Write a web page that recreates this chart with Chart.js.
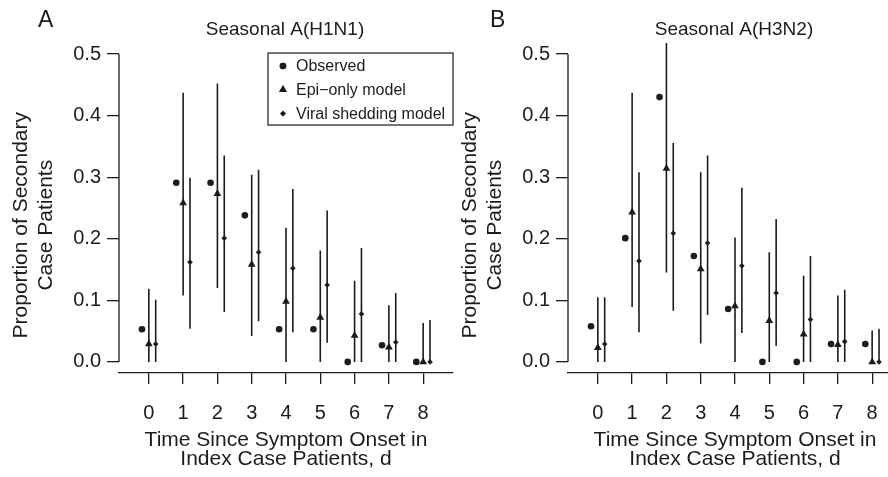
<!DOCTYPE html>
<html>
<head>
    <title>Secondary case proportions</title>
    <script src="https://cdn.jsdelivr.net/npm/chart.js"></script>
    <style>
        body { margin: 0; background: #ffffff; overflow: hidden; width: 888px; height: 477px; position: relative; }
        canvas { position: absolute; top: 0; }
        #chartA { left: 0px; }
        #chartB { left: 449px; }
    </style>
</head>
<body>
    <canvas id="chartA" width="460" height="477"></canvas>
    <canvas id="chartB" width="460" height="477"></canvas>
    <script>
        // days since symptom onset in the index case
        const days = [0, 1, 2, 3, 4, 5, 6, 7, 8];
        const yTicks = [0, 0.1, 0.2, 0.3, 0.4, 0.5];
        const seriesNames = ['Observed', 'Epi\u2212only model', 'Viral shedding model'];

        // A: seasonal A(H1N1)
        const obsA   = [0.053, 0.291, 0.291, 0.238, 0.053, 0.053, 0.000, 0.027, 0.000];
        const epiA   = [0.029, 0.258, 0.273, 0.158, 0.098, 0.072, 0.043, 0.024, 0.000];
        const epiLoA = [0.000, 0.108, 0.120, 0.042, 0.000, 0.000, 0.000, 0.000, 0.000];
        const epiHiA = [0.119, 0.437, 0.452, 0.304, 0.218, 0.181, 0.132, 0.092, 0.063];
        const virA   = [0.029, 0.162, 0.201, 0.178, 0.152, 0.125, 0.078, 0.032, 0.000];
        const virLoA = [0.000, 0.054, 0.081, 0.066, 0.048, 0.031, 0.000, 0.000, 0.000];
        const virHiA = [0.101, 0.299, 0.335, 0.312, 0.281, 0.246, 0.185, 0.112, 0.068];

        // B: seasonal A(H3N2)
        const obsB   = [0.058, 0.201, 0.430, 0.172, 0.086, 0.000, 0.000, 0.029, 0.029];
        const epiB   = [0.023, 0.243, 0.314, 0.151, 0.091, 0.067, 0.045, 0.028, 0.000];
        const epiLoB = [0.000, 0.089, 0.145, 0.030, 0.000, 0.000, 0.000, 0.000, 0.000];
        const epiHiB = [0.105, 0.437, 0.518, 0.308, 0.202, 0.178, 0.140, 0.108, 0.051];
        const virB   = [0.029, 0.164, 0.209, 0.193, 0.156, 0.112, 0.069, 0.033, 0.000];
        const virLoB = [0.000, 0.048, 0.083, 0.076, 0.047, 0.026, 0.000, 0.000, 0.000];
        const virHiB = [0.105, 0.308, 0.356, 0.335, 0.283, 0.232, 0.172, 0.117, 0.054];

        const ink = '#1c1c1c';
        const fontFam = '"Liberation Sans", Arial, Helvetica, sans-serif';

        // x offsets so the three estimates for one day sit side by side
        const OFF_OBS = -0.2, OFF_EPI = 0, OFF_VIR = 0.2;

        function points(vals, off) {
            return vals.map((v, i) => ({ x: days[i] + off, y: v }));
        }

        // vertical interval segments, broken apart with null gaps
        function intervals(lo, hi, off) {
            let out = [];
            days.forEach((d, i) => {
                out.push({ x: d + off, y: lo[i] });
                out.push({ x: d + off, y: hi[i] });
                out.push({ x: d + off, y: null });
            });
            return out;
        }

        const markerStyles = [
            { pointStyle: 'circle', radius: 3.3 },
            { pointStyle: 'triangle', radius: 4.5 },
            { pointStyle: 'rectRot', radius: 2.8 }
        ];

        const panelText = {
            id: 'panelText',
            afterDraw(chart, args, opts) {
                const ctx = chart.ctx;
                const y = chart.scales.y;
                const area = chart.chartArea;
                ctx.save();
                // R style y axis: only from 0 to 0.5
                ctx.strokeStyle = ink;
                ctx.lineWidth = 1.3;
                ctx.beginPath();
                ctx.moveTo(area.left, y.getPixelForValue(0));
                ctx.lineTo(area.left, y.getPixelForValue(0.5));
                ctx.stroke();

                ctx.fillStyle = ink;
                ctx.textBaseline = 'middle';
                ctx.textAlign = 'left';
                ctx.font = '23px ' + fontFam;
                ctx.fillText(opts.letter, opts.letterX, 21);
                ctx.textAlign = 'center';
                ctx.font = '19px ' + fontFam;
                ctx.fillText(opts.title, (area.left + area.right) / 2 - 1, 30);

                // y axis title, two lines
                ctx.save();
                ctx.translate(0, y.getPixelForValue(0.222));
                ctx.rotate(-Math.PI / 2);
                ctx.font = '21px ' + fontFam;
                ctx.fillText('Proportion of Secondary', 0, 21);
                ctx.fillText('Case Patients', 0, 46);
                ctx.restore();

                if (opts.legend) {
                    const top = y.getPixelForValue(0.5) - 1;
                    const right = area.right;
                    const left = right - 185;
                    ctx.lineWidth = 1.2;
                    ctx.strokeRect(left, top, right - left, 72);
                    ctx.textAlign = 'left';
                    ctx.font = '16px ' + fontFam;
                    seriesNames.forEach((name, k) => {
                        const ry = top + 13 + k * 23.8;
                        Chart.helpers.drawPoint(ctx, { pointStyle: markerStyles[k].pointStyle, radius: markerStyles[k].radius, borderWidth: 0 }, left + 15, ry);
                        ctx.fill();
                        ctx.fillText(name, left + 28, ry + 1);
                    });
                }
                ctx.restore();
            }
        };

        function makeChart(id, letter, letterX, title, obs, epi, epiLo, epiHi, vir, virLo, virHi, legend) {
            const pointSet = (label, vals, off, k) => ({
                type: 'line',
                label: label,
                data: points(vals, off),
                showLine: false,
                pointStyle: markerStyles[k].pointStyle,
                pointRadius: markerStyles[k].radius,
                pointBackgroundColor: ink,
                pointBorderColor: ink,
                pointBorderWidth: 0,
                clip: false
            });
            const barSet = (lo, hi, off) => ({
                type: 'line',
                data: intervals(lo, hi, off),
                borderColor: ink,
                borderWidth: 1.6,
                pointRadius: 0,
                spanGaps: false,
                clip: false
            });
            return new Chart(document.getElementById(id), {
                type: 'line',
                data: {
                    datasets: [
                        barSet(epiLo, epiHi, OFF_EPI),
                        barSet(virLo, virHi, OFF_VIR),
                        pointSet(seriesNames[0], obs, OFF_OBS, 0),
                        pointSet(seriesNames[1], epi, OFF_EPI, 1),
                        pointSet(seriesNames[2], vir, OFF_VIR, 2)
                    ]
                },
                options: {
                    responsive: false,
                    animation: false,
                    events: [],
                    layout: { padding: { left: 0, top: 41.7, right: 7, bottom: 0 } },
                    plugins: {
                        legend: { display: false },
                        tooltip: { enabled: false },
                        panelText: { letter: letter, letterX: letterX, title: title, legend: legend }
                    },
                    scales: {
                        x: {
                            type: 'linear',
                            min: -0.87,
                            max: 8.87,
                            afterBuildTicks: (s) => { s.ticks = days.map(v => ({ value: v })); },
                            afterFit: (s) => { s.height = 104; },
                            grid: { drawOnChartArea: false, drawTicks: true, tickLength: 11, color: ink, lineWidth: 1.3 },
                            border: { display: true, color: ink, width: 1.3 },
                            ticks: { color: ink, font: { family: fontFam, size: 20 }, padding: 17, maxRotation: 0 },
                            title: {
                                display: true,
                                text: ['Time Since Symptom Onset in', 'Index Case Patients, d'],
                                color: ink,
                                font: { family: fontFam, size: 21, lineHeight: 0.9 },
                                padding: { top: 0, bottom: 8 }
                            }
                        },
                        y: {
                            type: 'linear',
                            min: -0.018,
                            max: 0.52,
                            afterBuildTicks: (s) => { s.ticks = yTicks.map(v => ({ value: v })); },
                            afterFit: (s) => { s.width = 119; },
                            grid: { drawOnChartArea: false, drawTicks: true, tickLength: 12, color: ink, lineWidth: 1.3 },
                            border: { display: false },
                            ticks: {
                                color: ink,
                                font: { family: fontFam, size: 20 },
                                padding: 6,
                                callback: (v) => v.toFixed(1)
                            },
                            title: { display: false }
                        }
                    }
                },
                plugins: [panelText]
            });
        }

        makeChart('chartA', 'A', 38, 'Seasonal A(H1N1)', obsA, epiA, epiLoA, epiHiA, virA, virLoA, virHiA, true);
        makeChart('chartB', 'B', 41, 'Seasonal A(H3N2)', obsB, epiB, epiLoB, epiHiB, virB, virLoB, virHiB, false);
    </script>
</body>
</html>
